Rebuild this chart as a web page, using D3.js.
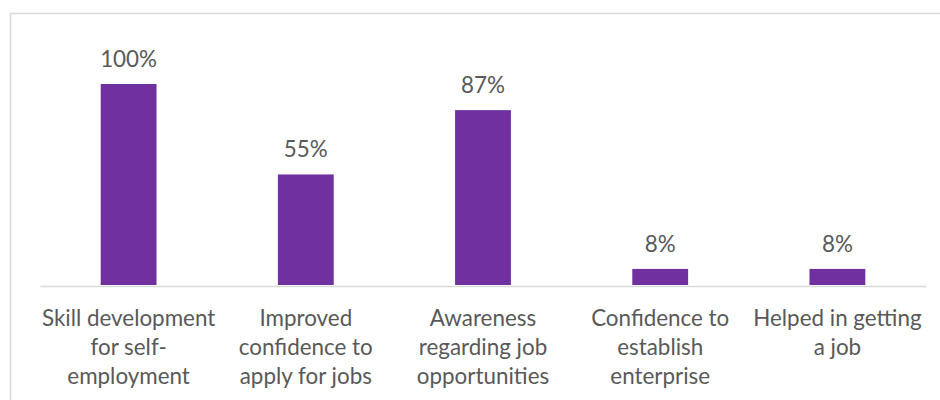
<!DOCTYPE html>
<html>
<head>
<meta charset="utf-8">
<script src="https://cdn.jsdelivr.net/npm/d3@7"></script>
<style>
  html, body { margin: 0; padding: 0; background: #ffffff; }
  svg { display: block; }
  text { font-family: Lato, "Open Sans", sans-serif; fill: #595959; }
</style>
</head>
<body>
<svg id="chart" width="940" height="400"></svg>
<script>
// Survey outcomes: share of respondents reporting each benefit
const categories = [
  "Skill development\nfor self-\nemployment",
  "Improved\nconfidence to\napply for jobs",
  "Awareness\nregarding job\nopportunities",
  "Confidence to\nestablish\nenterprise",
  "Helped in getting\na job"
];
const values = [1.00, 0.55, 0.87, 0.08, 0.08];
const valueLabels = ["100%", "55%", "87%", "8%", "8%"];

const W = 940, H = 400;
const plot = { left: 40, right: 926, top: 84, bottom: 286 };
const fontSize = 22.4;
const lineGap = 29;

const svg = d3.select("#chart");

// chart frame (top and left edges visible)
svg.append("rect")
  .attr("x", 10.5).attr("y", 13.5)
  .attr("width", W + 20).attr("height", H + 20)
  .attr("fill", "none")
  .attr("stroke", "#d9d9d9")
  .attr("stroke-width", 1.5);

const x = d3.scaleBand()
  .domain(categories)
  .range([plot.left, plot.right])
  .paddingInner(0.685)
  .paddingOuter(0.3425);

const y = d3.scaleLinear()
  .domain([0, 1])
  .range([plot.bottom - 1, plot.top]);

const data = categories.map((c, i) => ({ cat: c, v: values[i], label: valueLabels[i] }));

// bars
svg.append("g").selectAll("rect")
  .data(data)
  .join("rect")
  .attr("x", d => x(d.cat))
  .attr("y", d => y(d.v))
  .attr("width", x.bandwidth())
  .attr("height", d => y(0) - y(d.v))
  .attr("fill", "#7030a0");

// category axis: baseline plus wrapped labels
const axis = svg.append("g")
  .attr("transform", `translate(0,${plot.bottom})`)
  .call(d3.axisBottom(x).tickSize(0).tickFormat(""));
axis.select(".domain").attr("stroke", "#d9d9d9").attr("stroke-width", 1.5);

axis.selectAll(".tick").each(function(d) {
  const t = d3.select(this).append("text")
    .attr("text-anchor", "middle")
    .style("font-size", fontSize + "px");
  d.split("\n").forEach((line, i) => {
    t.append("tspan")
      .attr("x", 0)
      .attr("y", 40 + i * lineGap)
      .text(line);
  });
});

// value labels above bars
svg.append("g").selectAll("text")
  .data(data)
  .join("text")
  .attr("x", d => x(d.cat) + x.bandwidth() / 2)
  .attr("y", d => y(d.v) - 17)
  .attr("text-anchor", "middle")
  .style("font-size", fontSize + "px")
  .text(d => d.label);
</script>
</body>
</html>
